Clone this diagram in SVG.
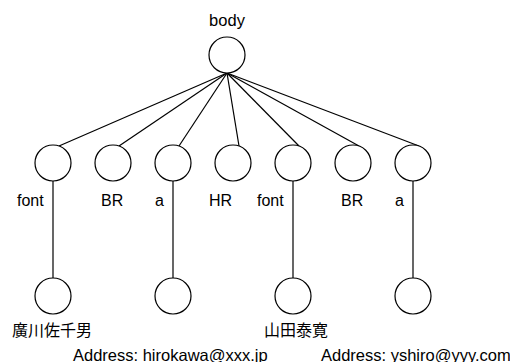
<svg xmlns="http://www.w3.org/2000/svg" width="510" height="362" viewBox="0 0 510 362">
<style>
.n{fill:#fff;stroke:#000;stroke-width:1.2}
.e{stroke:#000;stroke-width:1.2;fill:none}
text{font-family:"Liberation Sans","Noto Sans CJK JP",sans-serif;font-size:16px;fill:#000}
.l{font-size:16.5px}
</style>
<rect width="510" height="362" fill="#fff"/>
<g id="connectors">
<line class="e" x1="227" y1="73" x2="59" y2="146"/>
<line class="e" x1="227" y1="73" x2="119" y2="146"/>
<line class="e" x1="227" y1="73" x2="179" y2="146"/>
<line class="e" x1="227" y1="73" x2="239" y2="146"/>
<line class="e" x1="227" y1="73" x2="299" y2="146"/>
<line class="e" x1="227" y1="73" x2="359" y2="146"/>
<line class="e" x1="227" y1="73" x2="419" y2="146"/>
<line class="e" x1="53" y1="181" x2="53" y2="278"/>
<line class="e" x1="173" y1="181" x2="173" y2="278"/>
<line class="e" x1="293" y1="181" x2="293" y2="278"/>
<line class="e" x1="413" y1="181" x2="413" y2="278"/>
</g>
<g id="body"><circle class="n" cx="227" cy="55" r="18"/><text class="l" x="227" y="26" text-anchor="middle">body</text></g>
<g id="font1"><circle class="n" cx="53" cy="163" r="18"/><text x="17" y="206">font</text></g>
<g id="br1"><circle class="n" cx="113" cy="163" r="18"/><text x="101" y="206">BR</text></g>
<g id="a1"><circle class="n" cx="173" cy="163" r="18"/><text x="155" y="206">a</text></g>
<g id="hr"><circle class="n" cx="233" cy="163" r="18"/><text x="209" y="206">HR</text></g>
<g id="font2"><circle class="n" cx="293" cy="163" r="18"/><text x="257" y="206">font</text></g>
<g id="br2"><circle class="n" cx="353" cy="163" r="18"/><text x="341" y="206">BR</text></g>
<g id="a2"><circle class="n" cx="413" cy="163" r="18"/><text x="395" y="206">a</text></g>
<g id="text1"><circle class="n" cx="53" cy="296" r="18"/><text x="12" y="336">廣川佐千男</text></g>
<g id="addr1"><circle class="n" cx="173" cy="296" r="18"/><text class="l" x="73" y="361">Address: hirokawa@xxx.jp</text></g>
<g id="text2"><circle class="n" cx="293" cy="296" r="18"/><text x="264" y="336">山田泰寛</text></g>
<g id="addr2"><circle class="n" cx="413" cy="296" r="18"/><text class="l" x="321" y="361">Address: yshiro@yyy.com</text></g>
</svg>
